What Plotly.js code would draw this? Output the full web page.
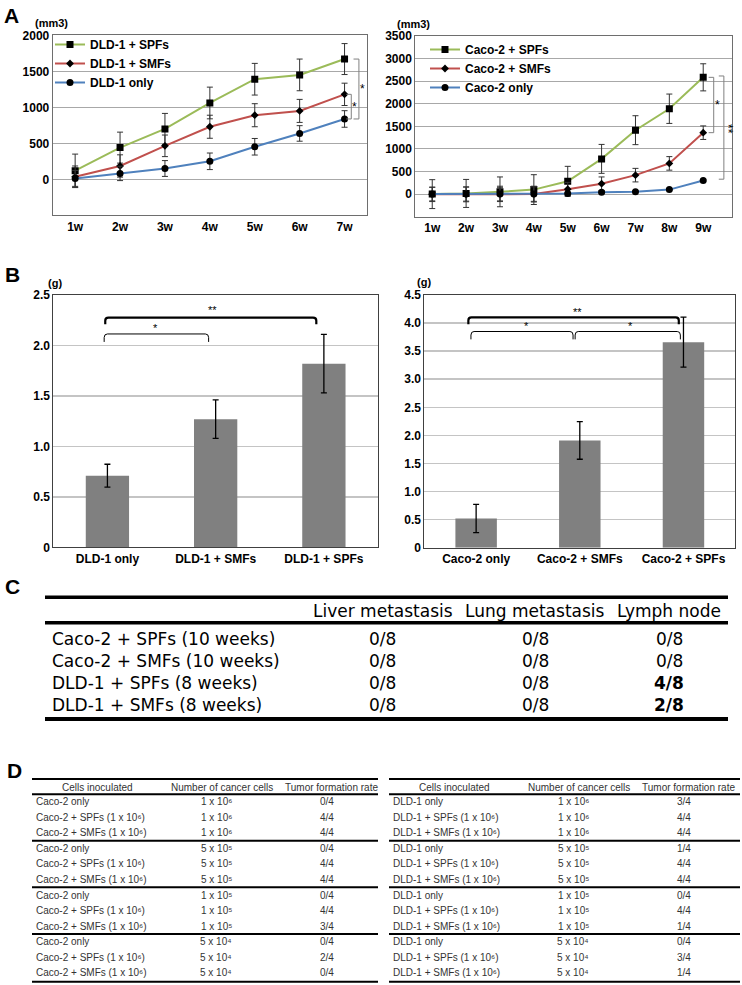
<!DOCTYPE html>
<html><head><meta charset="utf-8">
<script src="https://cdn.plot.ly/plotly-3.0.1.min.js"></script>
<style>html,body{margin:0;padding:0;background:#fff}#chart{width:742px;height:985px}</style>
</head><body><div id="chart"></div>
<script>
// ---------- Panel A data (tumour volume, mm3) ----------
const weeksDLD = ['1w','2w','3w','4w','5w','6w','7w'];
const dldSPF = [120,440,700,1060,1390,1450,1670];
const dldSPFerr = [230,215,215,220,220,220,215];
const dldSMF = [35,185,465,730,890,950,1180];
const dldSMFerr = [150,155,150,160,160,160,155];
const dldOnly = [12,82,150,250,452,637,838];
const dldOnlyErr = [110,100,110,115,115,108,115];
const yTicksDLD = [0,500,1000,1500,2000];

const weeksCaco = ['1w','2w','3w','4w','5w','6w','7w','8w','9w'];
const cacoSPF = [0,15,50,100,285,780,1415,1890,2585];
const cacoSPFerr = [320,310,330,330,330,320,320,325,300];
const cacoSMF = [-5,-5,5,0,110,230,420,680,1360];
const cacoSMFerr = [160,165,170,175,150,150,150,150,150];
const cacoOnly = [0,0,0,0,15,40,55,100,300];
const cacoOnlyErr = [150,155,150,160,20,20,20,20,20];
const yTicksCaco = [0,500,1000,1500,2000,2500,3000,3500];

// ---------- Panel B data (tumour weight, g) ----------
const barCatsDLD = ['DLD-1 only','DLD-1 + SMFs','DLD-1 + SPFs'];
const dldWeight = [0.71,1.27,1.82];
const dldWeightErr = [0.113,0.19,0.29];
const bTickValsDLD = [0,0.5,1,1.5,2,2.5];
const bTickTextDLD = ['0','0.5','1.0','1.5','2.0','2.5'];

const barCatsCaco = ['Caco-2 only','Caco-2 + SMFs','Caco-2 + SPFs'];
const cacoWeight = [0.52,1.91,3.66];
const cacoWeightErr = [0.25,0.335,0.445];
const bTickValsCaco = [0,0.5,1,1.5,2,2.5,3,3.5,4,4.5];
const bTickTextCaco = ['0','0.5','1.0','1.5','2.0','2.5','3.0','3.5','4.0','4.5'];

// ---------- Panel C data ----------
const cHeaders = ['Liver metastasis','Lung metastasis','Lymph node'];
const cRows = ['Caco-2 + SPFs (10 weeks)','Caco-2 + SMFs (10 weeks)','DLD-1 + SPFs (8 weeks)','DLD-1 + SMFs (8 weeks)'];
const cLiver = ['0/8','0/8','0/8','0/8'];
const cLung = ['0/8','0/8','0/8','0/8'];
const cLymph = ['0/8','0/8','4/8','2/8'];

// ---------- Panel D data ----------
const dHeaders = ['Cells inoculated','Number of cancer cells','Tumor formation rate'];
const dCellsCaco = ['Caco-2 only','Caco-2 + SPFs (1 x 10⁶)','Caco-2 + SMFs (1 x 10⁶)'];
const dCellsDLD = ['DLD-1 only','DLD-1 + SPFs (1 x 10⁶)','DLD-1 + SMFs (1 x 10⁶)'];
const dNumbers = ['1 x 10⁶','5 x 10⁵','1 x 10⁵','5 x 10⁴'];
const dRateCaco = ['0/4','4/4','4/4','0/4','4/4','4/4','0/4','4/4','3/4','0/4','2/4','0/4'];
const dRateDLD = ['3/4','4/4','4/4','1/4','4/4','4/4','0/4','4/4','1/4','0/4','3/4','1/4'];

// ---------- helpers ----------
const W = 742, H = 985;
const px = v => v / W, py = v => 1 - v / H;
const FONT = 'Liberation Sans, Arial, sans-serif';
const idx = a => a.map((_, i) => i);
const GREEN = '#9BBB59', RED = '#C0504D', BLUE = '#4F81BD';

function lineTrace(name, x, y, err, color, symbol, size, xa, ya, legend) {
  return {type:'scatter', mode:'lines+markers', name, x, y, xaxis:xa, yaxis:ya, legend,
    line:{color, width:2}, marker:{color:'#000', symbol, size},
    error_y:{type:'data', array:err, visible:true, color:'#333', thickness:1, width:3},
    hoverinfo:'skip'};
}
function barTrace(cats, y, err, xa, ya) {
  return {type:'bar', x:idx(cats), y, xaxis:xa, yaxis:ya, width:0.4, showlegend:false,
    marker:{color:'#808080'},
    error_y:{type:'data', array:err, visible:true, color:'#000', thickness:1.3, width:3},
    hoverinfo:'skip'};
}

const xD = idx(weeksDLD), xC = idx(weeksCaco);
const data = [
  lineTrace('DLD-1 + SPFs', xD, dldSPF, dldSPFerr, GREEN, 'square', 7, 'x', 'y', 'legend'),
  lineTrace('DLD-1 + SMFs', xD, dldSMF, dldSMFerr, RED, 'diamond', 6, 'x', 'y', 'legend'),
  lineTrace('DLD-1 only', xD, dldOnly, dldOnlyErr, BLUE, 'circle', 7, 'x', 'y', 'legend'),
  lineTrace('Caco-2 + SPFs', xC, cacoSPF, cacoSPFerr, GREEN, 'square', 7, 'x2', 'y2', 'legend2'),
  lineTrace('Caco-2 + SMFs', xC, cacoSMF, cacoSMFerr, RED, 'diamond', 6, 'x2', 'y2', 'legend2'),
  lineTrace('Caco-2 only', xC, cacoOnly, cacoOnlyErr, BLUE, 'circle', 7, 'x2', 'y2', 'legend2'),
  barTrace(barCatsDLD, dldWeight, dldWeightErr, 'x3', 'y3'),
  barTrace(barCatsCaco, cacoWeight, cacoWeightErr, 'x4', 'y4')
];

const tickFont = {family:FONT, size:12, color:'#000', weight:'bold'};
function xAx(dom, anchor, range, vals, text, lc) {
  return {domain:dom, anchor, range, tickvals:vals, ticktext:text, showgrid:false, zeroline:false,
    showline:true, mirror:true, linecolor:lc, linewidth:1, ticks:'', tickfont:tickFont, fixedrange:true};
}
function yAx(dom, anchor, range, vals, text, gc, gw, lc) {
  const a = {domain:dom, anchor, range, tickvals:vals, showgrid:true, gridcolor:gc, gridwidth:gw,
    zeroline:false, showline:true, mirror:true, linecolor:lc, linewidth:1, ticks:'', tickfont:tickFont, fixedrange:true};
  if (text) a.ticktext = text;
  return a;
}

const shapes = [];
const annotations = [];
function ann(text, x, y, opts) {
  annotations.push(Object.assign({text, x, y, xref:'paper', yref:'paper', showarrow:false,
    xanchor:'center', yanchor:'middle', font:{family:FONT, size:12, color:'#000'}}, opts || {}));
}
function pathShape(path, xref, yref, color, width) {
  shapes.push({type:'path', path, xref, yref, line:{color, width}, layer:'above'});
}
// square bracket on the right side of a line chart
function rightBracket(xref, yref, xTick, xVert, yTop, yBot) {
  pathShape(`M${xTick},${yTop} L${xVert},${yTop} L${xVert},${yBot} L${xTick},${yBot}`, xref, yref, '#808080', 1);
}
// horizontal bracket above bars
function topBracket(xref, yref, x0, x1, yTop, yEnd, w) {
  const dx = 0.03, dy = (yTop - yEnd) * 0.45;
  pathShape(`M${x0},${yEnd} L${x0},${yTop - dy} Q${x0},${yTop} ${x0 + dx},${yTop} L${x1 - dx},${yTop} Q${x1},${yTop} ${x1},${yTop - dy} L${x1},${yEnd}`,
    xref, yref, '#000', w);
}
function star(text, x, y, xref, yref, size, angle) {
  annotations.push({text, x, y, xref, yref, showarrow:false, xanchor:'center', yanchor:'middle',
    textangle:angle || 0, font:{family:FONT, size:size || 12, color:'#000000'}});
}

// Panel A brackets
const nD = dldSPF.length - 1, nC = cacoSPF.length - 1;
rightBracket('x', 'y', nD + 0.2, nD + 0.32, dldSPF[nD], dldOnly[nD]);
rightBracket('x', 'y', nD + 0.04, nD + 0.15, dldSMF[nD], dldOnly[nD]);
star('*', nD + 0.4, (dldSPF[nD] + dldOnly[nD]) / 2, 'x', 'y', 12);
star('*', nD + 0.23, (dldSMF[nD] + dldOnly[nD]) / 2, 'x', 'y', 12);
rightBracket('x2', 'y2', nC + 0.16, nC + 0.31, cacoSPF[nC], cacoSMF[nC]);
rightBracket('x2', 'y2', nC + 0.46, nC + 0.61, cacoSPF[nC] + 30, cacoOnly[nC] + 30);
star('*', nC + 0.42, (cacoSPF[nC] + cacoSMF[nC]) / 2, 'x2', 'y2', 12);
star('**', nC + 0.73, (cacoSPF[nC] + cacoOnly[nC]) / 2, 'x2', 'y2', 12, 90);

// Panel B brackets
topBracket('x3', 'y3', -0.02, 1.93, 2.275, 2.21, 2.2);
topBracket('x3', 'y3', -0.03, 0.935, 2.114, 2.035, 1);
star('**', 0.97, 2.35, 'x3', 'y3', 11);
star('*', 0.44, 2.17, 'x3', 'y3', 11);
topBracket('x4', 'y4', -0.075, 1.955, 4.10, 3.98, 2.2);
topBracket('x4', 'y4', -0.05, 0.935, 3.85, 3.71, 1);
topBracket('x4', 'y4', 0.955, 1.97, 3.85, 3.71, 1);
star('**', 0.98, 4.20, 'x4', 'y4', 11);
star('*', 0.49, 3.94, 'x4', 'y4', 11);
star('*', 1.49, 3.94, 'x4', 'y4', 11);

// Panel letters and units
const LET = {family:FONT, size:21, color:'#000', weight:'bold'};
ann('A', px(11), py(15.5), {font:LET});
ann('B', px(12), py(274), {font:LET});
ann('C', px(12), py(586), {font:LET});
ann('D', px(14), py(770), {font:LET});
const UNIT = {family:FONT, size:11, color:'#000', weight:'bold'};
ann('(mm3)', px(51), py(23), {font:UNIT});
ann('(mm3)', px(414), py(24), {font:UNIT});
ann('(g)', px(55), py(283), {font:UNIT});
ann('(g)', px(424), py(282), {font:UNIT});

// ---------- Table C ----------
function hRule(x0, x1, y, w) {
  shapes.push({type:'line', xref:'paper', yref:'paper', x0:px(x0), x1:px(x1), y0:py(y), y1:py(y),
    line:{color:'#000', width:w}, layer:'above'});
}
const CF = {family:'DejaVu Sans, sans-serif', size:17, color:'#000'};
hRule(45, 728, 597.3, 3.5);
hRule(45, 728, 622.7, 3.5);
hRule(45, 728, 719, 4);
const cCols = [383, 535, 669];
cHeaders.forEach((h, j) => ann(h, px(cCols[j]), py(611), {font:CF}));
const cVals = [cLiver, cLung, cLymph];
cRows.forEach((r, i) => {
  const y = 638.5 + 22 * i;
  ann(r, px(50), py(y), {font:CF, xanchor:'left'});
  cVals.forEach((col, j) => {
    const v = col[i];
    const bold = parseInt(v, 10) > 0;
    ann(v, px(cCols[j]), py(y), {font:Object.assign({}, CF, {weight: bold ? 'bold' : 'normal'})});
  });
});

// ---------- Table D ----------
const DF = {family:FONT, size:10, color:'#333'};
function tableD(x0, x1, cells, rates) {
  hRule(x0, x1, 779, 2);
  hRule(x0, x1, 794.3, 2);
  [840.7, 887.3, 934].forEach(y => hRule(x0, x1, y, 2));
  hRule(x0, x1, 981.7, 2);
  const hOff = [65, 190, 299];
  dHeaders.forEach((h, j) => ann(h, px(x0 + hOff[j]), py(787), {font:DF}));
  for (let i = 0; i < 12; i++) {
    const y = 801.7 + 15.55 * i;
    ann(cells[i % 3], px(x0 + 1.5), py(y), {font:DF, xanchor:'left'});
    ann(dNumbers[Math.floor(i / 3)], px(x0 + 184), py(y), {font:DF});
    ann(rates[i], px(x0 + 295), py(y), {font:DF});
  }
}
tableD(32, 378, dCellsCaco, dRateCaco);
tableD(389, 740, dCellsDLD, dRateDLD);

const legFont = {family:FONT, size:12, color:'#000', weight:'bold'};
const layout = {
  width:W, height:H, margin:{l:0, r:0, t:0, b:0}, paper_bgcolor:'#fff', plot_bgcolor:'#fff',
  font:{family:FONT},
  xaxis: xAx([px(52.7), px(367)], 'y', [-0.5, 6.5], xD, weeksDLD, '#6e6e6e'),
  yaxis: yAx([py(215.3), py(35.3)], 'x', [-500, 2000], yTicksDLD, null, '#a8a8a8', 1, '#6e6e6e'),
  xaxis2: xAx([px(415.3), px(732)], 'y2', [-0.5, 8.85], xC, weeksCaco, '#6e6e6e'),
  yaxis2: yAx([py(216.7), py(36)], 'x2', [-500, 3500], yTicksCaco, null, '#a8a8a8', 1, '#6e6e6e'),
  xaxis3: xAx([px(53.3), px(378)], 'y3', [-0.5, 2.5], idx(barCatsDLD), barCatsDLD, '#404040'),
  yaxis3: yAx([py(547.3), py(295)], 'x3', [0, 2.5], bTickValsDLD, bTickTextDLD, '#c4c4c4', 1.5, '#404040'),
  xaxis4: xAx([px(424.3), px(735.3)], 'y4', [-0.5, 2.5], idx(barCatsCaco), barCatsCaco, '#404040'),
  yaxis4: yAx([py(547.7), py(295)], 'x4', [0, 4.5], bTickValsCaco, bTickTextCaco, '#c4c4c4', 1.5, '#404040'),
  legend: {x:px(50), y:py(30), xanchor:'left', yanchor:'top', bgcolor:'rgba(0,0,0,0)', font:legFont, tracegroupgap:0},
  legend2: {x:px(425), y:py(35), xanchor:'left', yanchor:'top', bgcolor:'rgba(0,0,0,0)', font:legFont, tracegroupgap:0},
  shapes, annotations, showlegend:true
};
Plotly.newPlot('chart', data, layout, {staticPlot:true, displayModeBar:false});
</script></body></html>
